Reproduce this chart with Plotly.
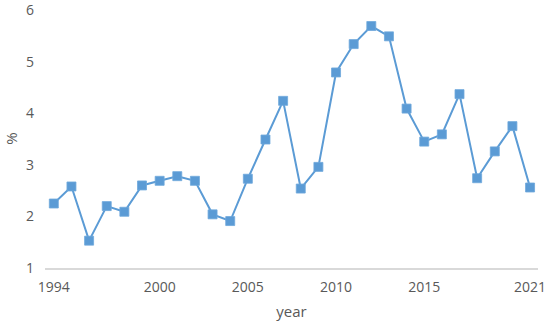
import plotly.graph_objects as go

years = list(range(1994, 2022))
values = [2.25, 2.58, 1.53, 2.20, 2.09, 2.60, 2.69, 2.78, 2.69, 2.04,
          1.91, 2.73, 3.49, 4.24, 2.54, 2.96, 4.79, 5.34, 5.69, 5.49,
          4.09, 3.45, 3.59, 4.37, 2.74, 3.26, 3.75, 2.56]
x_tick_vals = [1994, 2000, 2005, 2010, 2015, 2021]
y_tick_vals = [1, 2, 3, 4, 5, 6]

fig = go.Figure()
fig.add_trace(go.Scatter(
    x=years, y=values, mode="lines+markers",
    line=dict(color="#5B9BD5", width=2),
    marker=dict(symbol="square", size=9, color="#5B9BD5",
                line=dict(color="#6FA8DC", width=0.8)),
    showlegend=False, cliponaxis=False,
))

font_color = "#595959"
fig.update_layout(
    width=550, height=321,
    margin=dict(l=45, r=12, t=9, b=53),
    paper_bgcolor="white", plot_bgcolor="white",
    font=dict(family="Open Sans", size=14, color=font_color),
    xaxis=dict(
        range=[1993.5, 2021.45], tickmode="array", tickvals=x_tick_vals,
        ticktext=[str(v) for v in x_tick_vals],
        showgrid=False, zeroline=False, automargin=False,
        showline=True, linecolor="#D9D9D9", linewidth=2,
        ticks="", ticklabelstandoff=5, ticklabeloverflow="allow",
        title=dict(text="year", standoff=13, font=dict(size=15, color=font_color)),
    ),
    yaxis=dict(
        range=[1, 6.02], tickmode="array", tickvals=y_tick_vals,
        showgrid=False, zeroline=False, showline=False, automargin=False,
        ticks="", ticklabelstandoff=10, ticklabeloverflow="allow",
        title=dict(text="%", standoff=4, font=dict(size=15, color=font_color)),
    ),
)

fig.write_html("out.html", config={"displayModeBar": False},
               post_script="document.body.style.margin='0';document.body.style.overflow='hidden';")
